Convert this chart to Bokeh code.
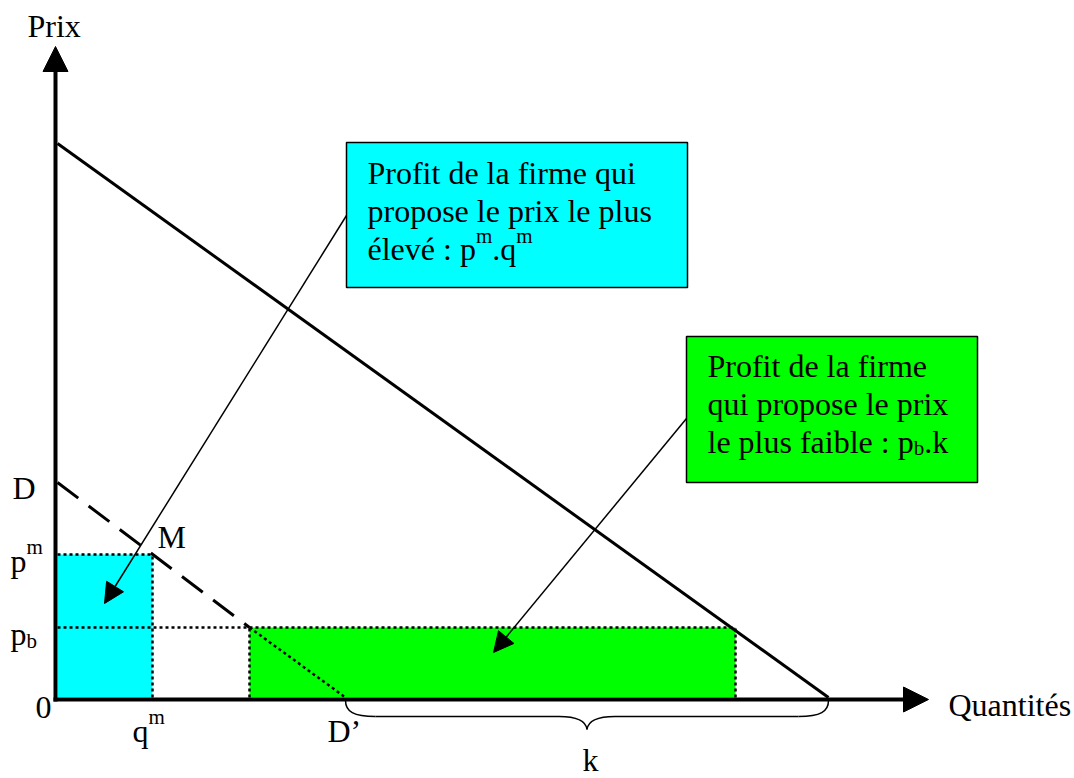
from bokeh.plotting import figure
from bokeh.models import Range1d, Arrow, NormalHead
from bokeh.core.properties import value
from bokeh.embed import file_html
from bokeh.resources import INLINE

# ---------------- data (model units, origin at (0, 0)) ----------------
market_demand = [554, 771]      # [price intercept, quantity intercept] of the solid demand line
resid_demand = [215, 288]       # [D, D'] intercepts of the residual demand (dashed/dotted)
p_m = 143                        # monopoly price p^m
q_m = 95                         # monopoly quantity q^m
p_b = 70                         # low price p_b
q_low = [192, 678]               # quantities bounding the low-price firm's profit rectangle
axis_max = [871, 651]            # [quantity, price] reached by the axis arrows

cyan_lines = ["Profit de la firme qui", "propose le prix le plus"]
cyan_last = [("élevé : p", "n"), ("m", "sup"), (".q", "n"), ("m", "sup")]
green_lines = ["Profit de la firme", "qui propose le prix"]
green_last = [("le plus faible : p", "n"), ("b", "sub"), (".k", "n")]

# ---------------- layout ----------------
FONT = value("Liberation Serif")
BIG = 32
SMALL = 21
W = 1074
H = 778
TDY = 10  # baseline correction for the svg text rendering

p = figure(width=W, height=H, x_range=Range1d(-57, 1017), y_range=Range1d(-81, 697),
           output_backend="svg", toolbar_location=None, min_border=0,
           x_axis_location=None, y_axis_location=None)
p.grid.visible = False
p.outline_line_color = None
p.background_fill_color = "white"
p.border_fill_color = "white"

# profit rectangles
p.quad(left=[0], right=[q_m], bottom=[0], top=[p_m], fill_color="#00FFFF", line_color=None)
p.quad(left=[q_low[0]], right=[q_low[1]], bottom=[0], top=[p_b], fill_color="#00FF00", line_color=None)

# dotted guide lines
p.segment(x0=[0, 0, q_m, q_low[0], q_low[1]],
          y0=[p_m, p_b, 0, 0, 0],
          x1=[q_m, q_low[1], q_m, q_low[0], q_low[1]],
          y1=[p_m, p_b, p_m, p_b, p_b],
          line_color="black", line_width=2.5, line_dash="3 3")

# residual demand: dashed part above p_b, dotted part below
p.line(x=[0, q_low[0]], y=[resid_demand[0], p_b], line_color="black", line_width=3, line_dash="26 13")
p.line(x=[q_low[0], resid_demand[1]], y=[p_b, 0], line_color="black", line_width=2.5, line_dash="3 3")

# market demand (solid)
p.line(x=[0, market_demand[1]], y=[market_demand[0], 0], line_color="black", line_width=3)

# brace for k (from D' to the market demand quantity intercept)
L, R = resid_demand[1], market_demand[1]
m = (L + R) / 2
yt, yf, yp = -3, -19, -32
p.bezier(x0=[L, m - 28, R, m + 28], y0=[yt, yf, yt, yf],
         x1=[L + 30, m, R - 30, m], y1=[yf, yp, yf, yp],
         cx0=[L, m - 8, R, m + 8], cy0=[-14, yf, -14, yf],
         cx1=[L + 8, m - 1, R - 8, m + 1], cy1=[yf, -24, yf, -24],
         line_color="black", line_width=1.5)
p.segment(x0=[L + 30, m + 28], y0=[yf, yf], x1=[m - 28, R - 30], y1=[yf, yf],
          line_color="black", line_width=1.5)

# axes with arrow heads
p.add_layout(Arrow(end=NormalHead(size=25, fill_color="black", line_color="black"),
                   x_start=-2, y_start=-4, x_end=-2, y_end=axis_max[1],
                   line_width=4, line_color="black"))
p.add_layout(Arrow(end=NormalHead(size=25, fill_color="black", line_color="black"),
                   x_start=-4, y_start=-2, x_end=axis_max[0], y_end=-2,
                   line_width=4, line_color="black"))

# callout arrows
p.add_layout(Arrow(end=NormalHead(size=20, fill_color="black", line_color="black"),
                   x_start=289, y_start=482, x_end=47, y_end=94,
                   line_width=1.5, line_color="black"))
p.add_layout(Arrow(end=NormalHead(size=20, fill_color="black", line_color="black"),
                   x_start=629, y_start=279, x_end=436, y_end=45,
                   line_width=1.5, line_color="black"))

# text boxes
p.quad(left=[289, 629], right=[630, 920], bottom=[410, 215], top=[555, 361],
       fill_color=["#00FFFF", "#00FF00"], line_color="black", line_width=1.5)

# Times / Liberation Serif advance widths (per 1000 em)
ADV = {'é': 444, 'l': 278, 'e': 444, 'v': 500, ' ': 250, ':': 278, 'p': 500, '.': 250,
       'q': 500, 'm': 778, 'u': 500, 's': 389, 'f': 333, 'a': 444, 'i': 278, 'b': 500,
       'k': 500}


def width(s, size):
    return sum(ADV.get(c, 500) for c in s) * size / 1000.0


def rich_line(pieces, x, y):
    out = []
    for txt, kind in pieces:
        size = BIG if kind == "n" else SMALL
        dy = 0 if kind == "n" else (13 if kind == "sup" else -6)
        out.append((x, y + dy, txt, size))
        x += width(txt, size)
    return out


big_x, big_y, big_t = [], [], []
small_x, small_y, small_t = [], [], []


def add(items):
    for xx, yy, tt, sz in items:
        if sz == BIG:
            big_x.append(xx); big_y.append(yy + TDY); big_t.append(tt)
        else:
            small_x.append(xx); small_y.append(yy + TDY); small_t.append(tt)


# cyan box text
add([(310, 515 - 38 * i, ln, BIG) for i, ln in enumerate(cyan_lines)])
add(rich_line(cyan_last, 310, 439))
# green box text
add([(650, 322 - 38 * i, ln, BIG) for i, ln in enumerate(green_lines)])
add(rich_line(green_last, 650, 246))

# axis / point labels
labels = [("Prix", -30, 662), ("Quantités", 891, -17), ("D", -45, 200), ("M", 100, 151),
          ("p", -47, 127), ("p", -47, 54), ("0", -22, -20), ("q", 75, -43),
          ("D\u2019", 270, -43), ("k", 525, -72)]
add([(xx, yy, t, BIG) for t, xx, yy in labels])
scripts = [("m", -31, 141), ("b", -31, 47), ("m", 91, -29)]
add([(xx, yy, t, SMALL) for t, xx, yy in scripts])

p.text(x=big_x, y=big_y, text=big_t, text_font=FONT, text_font_size=value(f"{BIG}px"),
       text_color="black", text_align="left", text_baseline="alphabetic")
p.text(x=small_x, y=small_y, text=small_t, text_font=FONT, text_font_size=value(f"{SMALL}px"),
       text_color="black", text_align="left", text_baseline="alphabetic")

open("out.html", "w").write(file_html(p, INLINE))
